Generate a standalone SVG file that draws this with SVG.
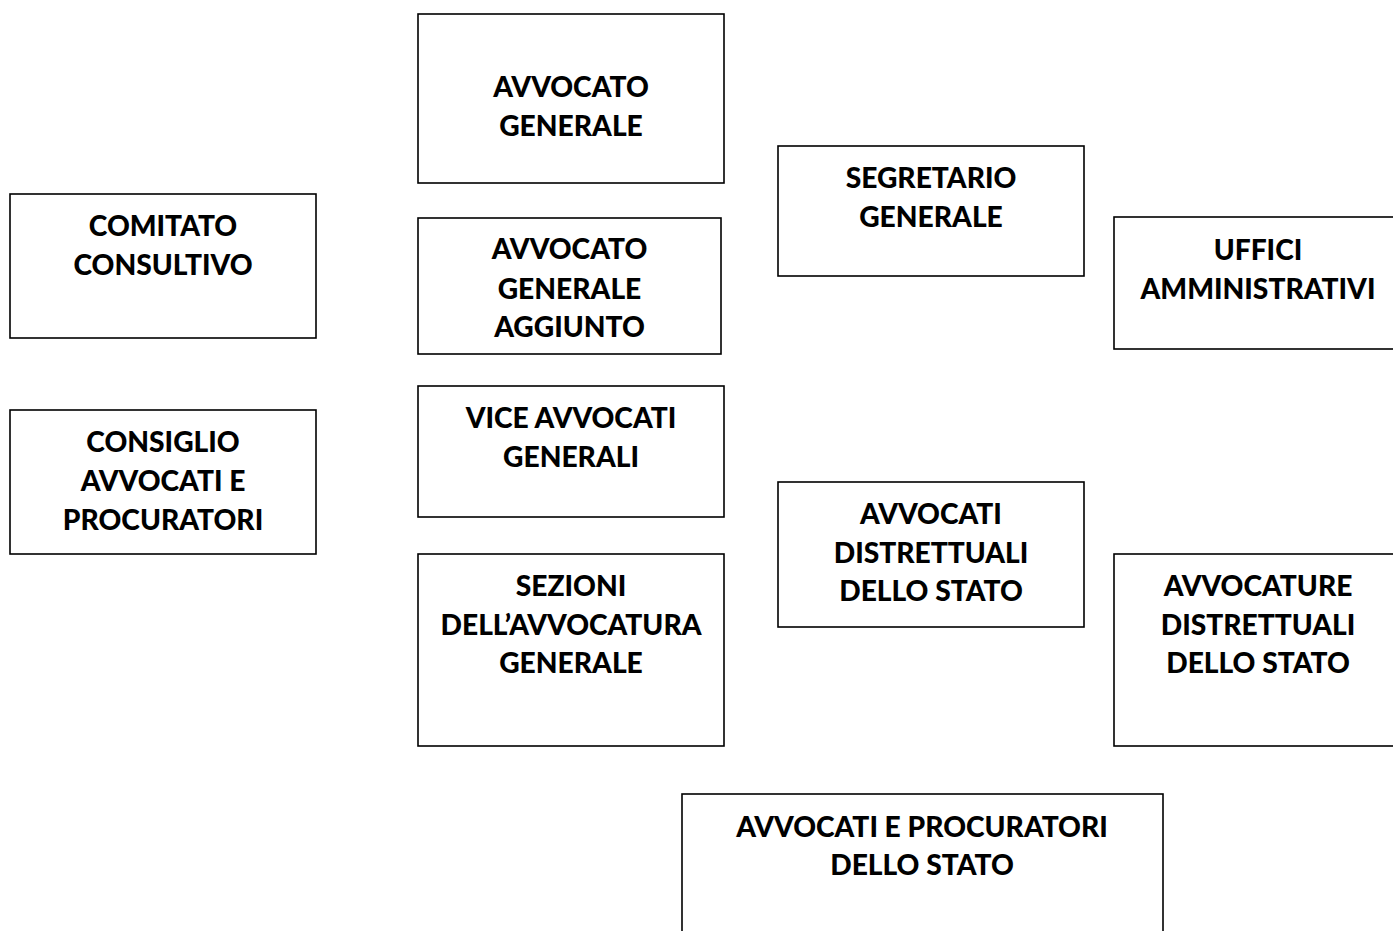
<svg xmlns="http://www.w3.org/2000/svg" width="1393" height="931" viewBox="0 0 1393 931">
<style>
.box{fill:#fff;stroke:#000;stroke-width:1.6}
.t{font-family:Lato,"Open Sans","Liberation Sans",sans-serif;font-weight:900;font-size:28.2px;fill:#000;text-anchor:middle}
</style>
<rect width="1393" height="931" fill="#fff"/>
<g id="connectors"></g>
<g id="avvocato-generale">
<rect class="box" x="418" y="14" width="306" height="169"/>
<text class="t" x="571" y="96.5">AVVOCATO</text>
<text class="t" x="571" y="135.5">GENERALE</text>
</g>
<g id="comitato-consultivo">
<rect class="box" x="10" y="194" width="306" height="144"/>
<text class="t" x="163" y="235.5">COMITATO</text>
<text class="t" x="163" y="274.5">CONSULTIVO</text>
</g>
<g id="avvocato-generale-aggiunto">
<rect class="box" x="418" y="218" width="303" height="136"/>
<text class="t" x="569.5" y="258.5">AVVOCATO</text>
<text class="t" x="569.5" y="298.5">GENERALE</text>
<text class="t" x="569.5" y="336.5">AGGIUNTO</text>
</g>
<g id="segretario-generale">
<rect class="box" x="778" y="146" width="306" height="130"/>
<text class="t" x="931" y="187.5">SEGRETARIO</text>
<text class="t" x="931" y="226.5">GENERALE</text>
</g>
<g id="uffici-amministrativi">
<rect class="box" x="1114" y="217" width="300" height="132"/>
<text class="t" x="1258" y="259.5">UFFICI</text>
<text class="t" x="1258" y="298.5">AMMINISTRATIVI</text>
</g>
<g id="consiglio-avvocati">
<rect class="box" x="10" y="410" width="306" height="144"/>
<text class="t" x="163" y="451.5">CONSIGLIO</text>
<text class="t" x="163" y="490.5">AVVOCATI E</text>
<text class="t" x="163" y="529.5">PROCURATORI</text>
</g>
<g id="vice-avvocati-generali">
<rect class="box" x="418" y="386" width="306" height="131"/>
<text class="t" x="571" y="427.5">VICE AVVOCATI</text>
<text class="t" x="571" y="466.5">GENERALI</text>
</g>
<g id="avvocati-distrettuali">
<rect class="box" x="778" y="482" width="306" height="145"/>
<text class="t" x="931" y="523.5">AVVOCATI</text>
<text class="t" x="931" y="562.5">DISTRETTUALI</text>
<text class="t" x="931" y="600.5">DELLO STATO</text>
</g>
<g id="sezioni">
<rect class="box" x="418" y="554" width="306" height="192"/>
<text class="t" x="571" y="595.5">SEZIONI</text>
<text class="t" x="571" y="634.5">DELL’AVVOCATURA</text>
<text class="t" x="571" y="672.5">GENERALE</text>
</g>
<g id="avvocature-distrettuali">
<rect class="box" x="1114" y="554" width="300" height="192"/>
<text class="t" x="1258" y="595.5">AVVOCATURE</text>
<text class="t" x="1258" y="634.5">DISTRETTUALI</text>
<text class="t" x="1258" y="672.5">DELLO STATO</text>
</g>
<g id="avvocati-procuratori">
<rect class="box" x="682" y="794" width="481" height="200"/>
<text class="t" x="922" y="836.5">AVVOCATI E PROCURATORI</text>
<text class="t" x="922" y="874.5">DELLO STATO</text>
</g>
</svg>
